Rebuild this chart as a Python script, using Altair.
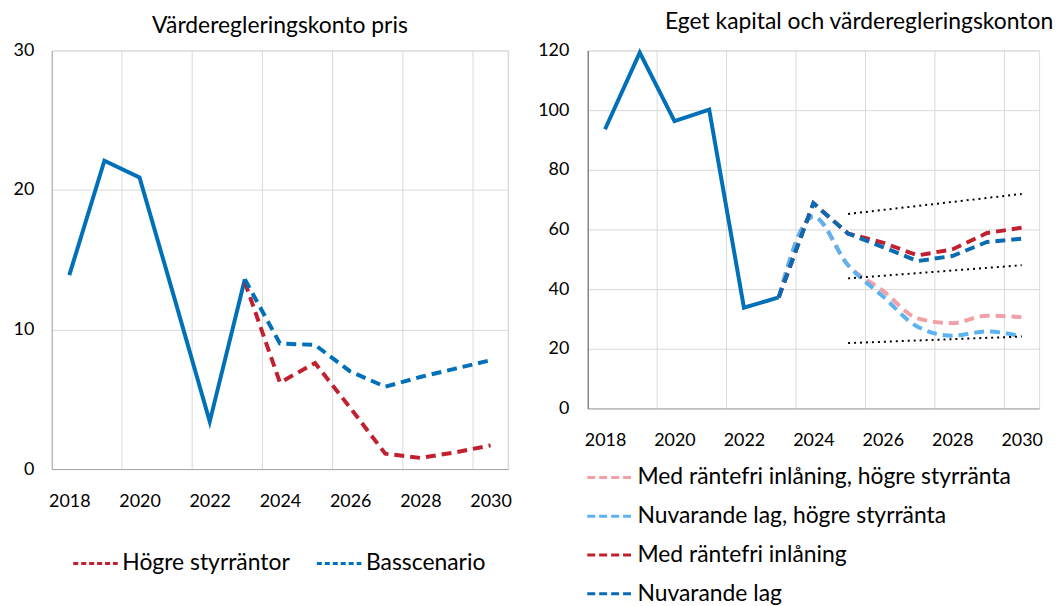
import altair as alt
import pandas as pd

FONT = "Lato"

# ---------------- Left panel: Värderegleringskonto pris ----------------
l_hist_years = [2018, 2019, 2020, 2021, 2022, 2023]
l_hist_vals = [13.9, 22.1, 20.9, 12.2, 3.4, 13.6]

l_scen_years = [2023, 2024, 2025, 2026, 2027, 2028, 2029, 2030]
l_base_vals = [13.6, 9.0, 8.9, 7.0, 5.9, 6.6, 7.2, 7.8]
l_high_vals = [13.4, 6.2, 7.6, 4.4, 1.1, 0.8, 1.2, 1.7]

l_series = ["Högre styrräntor", "Basscenario"]
l_colors = ["#C0202F", "#0070B8"]

# ---------------- Right panel: Eget kapital och värderegleringskonton ----------------
r_hist_years = [2018, 2019, 2020, 2021, 2022, 2023]
r_hist_vals = [93.6, 119.3, 96.3, 100.2, 33.8, 37.2]

r_scen_years = [2023, 2024, 2025, 2026, 2027, 2028, 2029, 2030]
r_med_h = [37.2, 64.3, 48.0, 39.5, 30.2, 28.6, 31.1, 30.6]
r_nuv_h = [37.2, 64.3, 48.0, 37.6, 27.4, 24.4, 25.8, 24.1]
r_med = [37.2, 68.8, 58.6, 55.6, 51.3, 53.3, 58.8, 60.6]
r_nuv = [37.2, 68.8, 58.6, 54.1, 49.4, 51.1, 55.8, 56.9]

r_series = ["Med räntefri inlåning, högre styrränta", "Nuvarande lag, högre styrränta",
            "Med räntefri inlåning", "Nuvarande lag"]
r_colors = ["#F2A0A6", "#5DB2F0", "#C0202F", "#0A6AB2"]

dot_years = [2025, 2030]
dot_upper = [65.2, 71.9]
dot_mid = [43.6, 48.0]
dot_low = [21.9, 24.1]

x_label_years = [2018, 2020, 2022, 2024, 2026, 2028, 2030]
grid_years_left = [2019.5, 2021.5, 2023.5, 2025.5, 2027.5, 2029.5, 2030.5]
grid_years_right = [2019.5, 2021.5, 2023.5, 2025.5, 2027.5, 2029.5]

XDOM = [2017.5, 2030.5]
DASH = [10, 6]


def xenc(pad):
    return alt.X(
        "year:Q",
        scale=alt.Scale(domain=XDOM, nice=False, zero=False),
        axis=alt.Axis(values=x_label_years, format="d", grid=False, ticks=False,
                      labelPadding=pad, labelFontSize=18, labelFont=FONT,
                      labelColor="#000000", domainColor="#A6A6A6", title=None,
                      labelFlush=False),
    )


# ---------- left ----------
l_hist_df = pd.DataFrame({"year": l_hist_years, "value": l_hist_vals})
l_scen_df = pd.concat([
    pd.DataFrame({"year": l_scen_years, "value": l_high_vals, "lseries": l_series[0]}),
    pd.DataFrame({"year": l_scen_years, "value": l_base_vals, "lseries": l_series[1]}),
])
l_grid_df = pd.DataFrame({"year": grid_years_left})

l_y = alt.Y("value:Q", scale=alt.Scale(domain=[0, 30], nice=False),
            axis=alt.Axis(values=[0, 10, 20, 30], grid=True, gridColor="#D9D9D9",
                          ticks=False, labelPadding=18, labelFontSize=18, labelFont=FONT,
                          labelColor="#000000", domainColor="#A6A6A6", title=None))

LP = 24
l_grid = alt.Chart(l_grid_df).mark_rule(color="#D9D9D9", strokeWidth=1).encode(x=xenc(LP))

l_hist = alt.Chart(l_hist_df).mark_line(color="#0070B8", strokeWidth=4).encode(
    x=xenc(LP), y=l_y
)

l_scen = alt.Chart(l_scen_df).mark_line(strokeWidth=4, strokeDash=DASH).encode(
    x=xenc(LP), y=alt.Y("value:Q"),
    color=alt.Color("lseries:N", scale=alt.Scale(domain=l_series, range=l_colors),
                    sort=l_series,
                    legend=alt.Legend(title=None, orient="none", direction="horizontal",
                                      legendX=20, legendY=492,
                                      symbolType="stroke", symbolSize=2000,
                                      symbolStrokeWidth=3, symbolDash=[5, 3],
                                      labelFontSize=23, labelFont=FONT, labelColor="#000000",
                                      labelOffset=3, columnPadding=20, labelLimit=400)),
)

left = alt.layer(l_grid, l_hist, l_scen).properties(
    width=459, height=421,
    title=alt.TitleParams("Värderegleringskonto pris", fontSize=23, font=FONT,
                          fontWeight="normal", color="#000000", offset=4, anchor="middle"),
)

# ---------- right ----------
r_hist_df = pd.DataFrame({"year": r_hist_years, "value": r_hist_vals})
r_grid_df = pd.DataFrame({"year": grid_years_right})
r_dot_df = pd.concat([
    pd.DataFrame({"year": dot_years, "value": dot_upper, "band": "upper"}),
    pd.DataFrame({"year": dot_years, "value": dot_mid, "band": "mid"}),
    pd.DataFrame({"year": dot_years, "value": dot_low, "band": "low"}),
])

r_y = alt.Y("value:Q", scale=alt.Scale(domain=[0, 120], nice=False),
            axis=alt.Axis(values=[0, 20, 40, 60, 80, 100, 120], grid=True, gridColor="#D9D9D9",
                          ticks=False, labelPadding=19, labelFontSize=18, labelFont=FONT,
                          labelColor="#000000", domainColor="#595959", title=None))

RP = 23
r_grid = alt.Chart(r_grid_df).mark_rule(color="#D9D9D9", strokeWidth=1).encode(x=xenc(RP))

r_color_scale = alt.Scale(domain=r_series, range=r_colors)
r_legend = alt.Legend(title=None, orient="none", direction="vertical",
                      legendX=-2, legendY=405,
                      symbolType="stroke", symbolSize=2100,
                      symbolStrokeWidth=3, symbolDash=[8, 4],
                      labelFontSize=23, labelFont=FONT, labelColor="#000000",
                      labelOffset=3, rowPadding=2, labelLimit=500)

scen_layers = []
for name, vals, interp in [(r_series[0], r_med_h, "monotone"), (r_series[1], r_nuv_h, "monotone"),
                           (r_series[2], r_med, "linear"), (r_series[3], r_nuv, "linear")]:
    df = pd.DataFrame({"year": r_scen_years, "value": vals, "rseries": name})
    scen_layers.append(
        alt.Chart(df).mark_line(strokeWidth=4, strokeDash=DASH, interpolate=interp).encode(
            x=xenc(RP), y=alt.Y("value:Q"),
            color=alt.Color("rseries:N", scale=r_color_scale, sort=r_series, legend=r_legend),
        )
    )

r_hist = alt.Chart(r_hist_df).mark_line(color="#0070B8", strokeWidth=4).encode(
    x=xenc(RP), y=r_y
)

r_dots = alt.Chart(r_dot_df).mark_line(color="#000000", strokeWidth=2, strokeDash=[2, 4]).encode(
    x=xenc(RP), y=alt.Y("value:Q"), detail="band:N"
)

right = alt.layer(r_grid, r_hist, *scen_layers, r_dots).properties(
    width=454, height=360,
    title=alt.TitleParams("Eget kapital och värderegleringskonton", fontSize=23, font=FONT,
                          fontWeight="normal", color="#000000", offset=8, anchor="start", dx=128),
)

chart = alt.hconcat(left, right, spacing=25).resolve_scale(
    color="independent"
).resolve_legend(color="independent").properties(
    padding={"left": 4, "top": 0, "right": 0, "bottom": 0}
).configure_view(stroke=None).configure(font=FONT)

chart.save("out.html", embed_options={"renderer": "svg", "actions": False})
